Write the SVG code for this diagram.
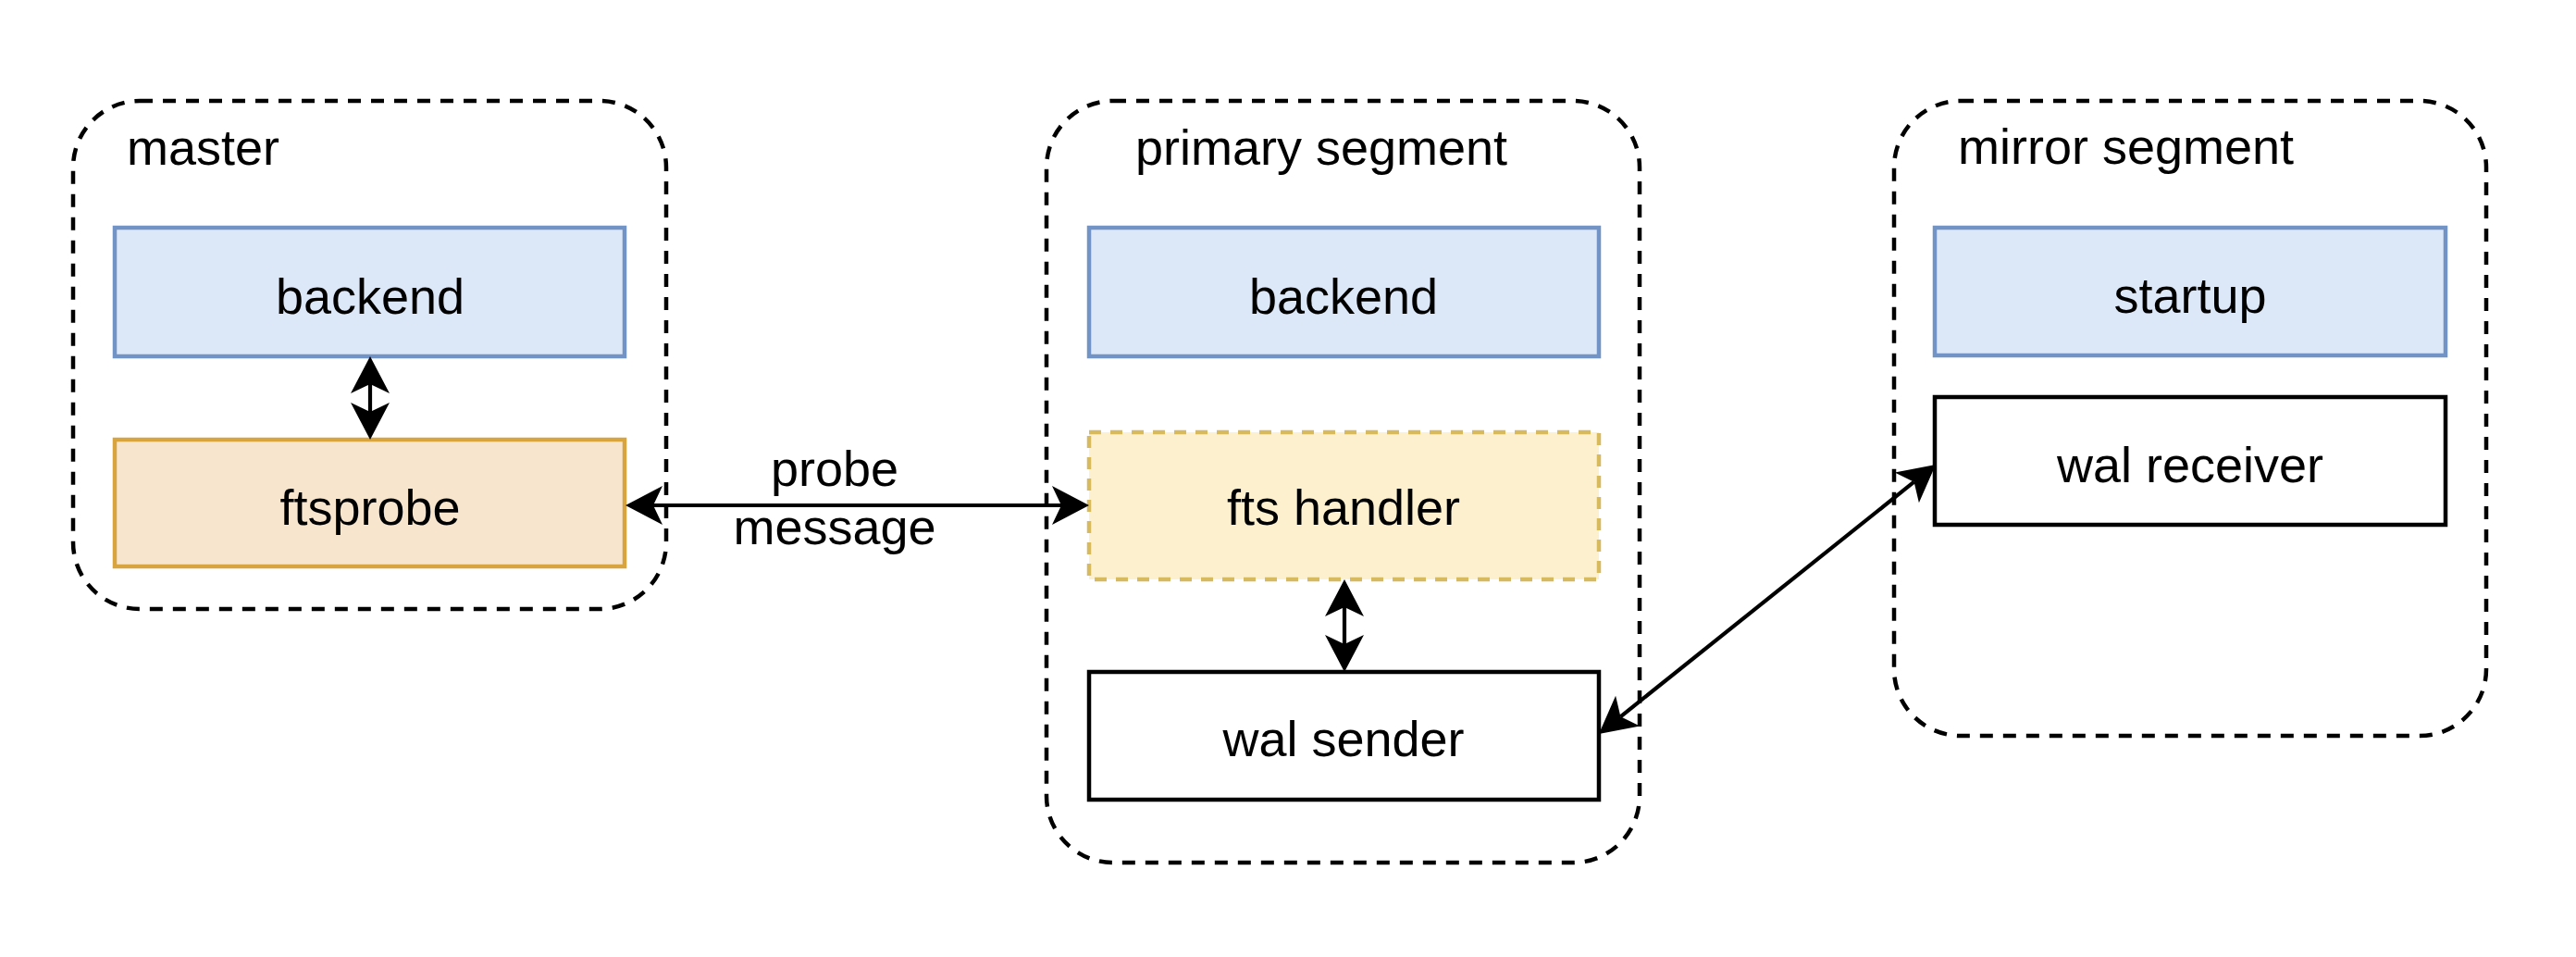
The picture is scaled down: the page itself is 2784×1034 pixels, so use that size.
<svg xmlns="http://www.w3.org/2000/svg" width="2784" height="1034" viewBox="0 0 2784 1034">
<style>
  text { font-family: "Liberation Sans", Arial, Helvetica, sans-serif; font-size: 54px; fill: #000; }
  .c { text-anchor: middle; }
  .container { fill: none; stroke: #000; stroke-width: 4.5; stroke-dasharray: 14 11; }
  .blue { fill: #dce7f8; stroke: #7193c5; stroke-width: 4.5; }
  .orange { fill: #f7e6cd; stroke: #d8a440; stroke-width: 4.5; }
  .yellow { fill: #fcf0cf; stroke: #d7b95e; stroke-width: 4.5; stroke-dasharray: 13 10; }
  .plain { fill: #fff; stroke: #000; stroke-width: 4.5; }
  .edge { fill: none; stroke: #000; stroke-width: 4.2; marker-start: url(#arr); marker-end: url(#arr); }
</style>
<defs>
  <marker id="arr" markerUnits="userSpaceOnUse" markerWidth="40" markerHeight="42" refX="10" refY="21" orient="auto-start-reverse" overflow="visible">
    <path d="M40,21 L0,0 L10,21 L0,42 Z" fill="#000"/>
  </marker>
</defs>
<rect width="2784" height="1034" fill="#fff"/>

<g id="master">
  <rect class="container" x="79" y="109" width="641" height="549" rx="72" ry="72"/>
  <text x="137" y="178">master</text>
</g>
<g id="primary-segment">
  <rect class="container" x="1131" y="109" width="641" height="823" rx="72" ry="72"/>
  <text x="1227" y="178">primary segment</text>
</g>
<g id="mirror-segment">
  <rect class="container" x="2047" y="109" width="640" height="686" rx="72" ry="72"/>
  <text x="2116" y="177">mirror segment</text>
</g>

<g id="master-backend">
  <rect class="blue" x="124" y="246" width="551" height="139"/>
  <text class="c" x="400" y="339">backend</text>
</g>
<g id="ftsprobe">
  <rect class="orange" x="124" y="475" width="551" height="137"/>
  <text class="c" x="400" y="567">ftsprobe</text>
</g>
<g id="primary-backend">
  <rect class="blue" x="1177" y="246" width="551" height="139"/>
  <text class="c" x="1452" y="339">backend</text>
</g>
<g id="fts-handler">
  <rect class="yellow" x="1177" y="467" width="551" height="159"/>
  <text class="c" x="1452" y="567">fts handler</text>
</g>
<g id="wal-sender">
  <rect class="plain" x="1177" y="726" width="551" height="138"/>
  <text class="c" x="1452" y="817">wal sender</text>
</g>
<g id="startup">
  <rect class="blue" x="2091" y="246" width="552" height="138"/>
  <text class="c" x="2367" y="338">startup</text>
</g>
<g id="wal-receiver">
  <rect class="plain" x="2091" y="429" width="552" height="138"/>
  <text class="c" x="2367" y="521">wal receiver</text>
</g>

<g id="connectors">
  <line class="edge" x1="400" y1="415" x2="400" y2="445"/>
  <line class="edge" x1="706" y1="546" x2="1147" y2="546"/>
  <text class="c" x="902" y="525">probe</text>
  <text class="c" x="902" y="588">message</text>
  <line class="edge" x1="1453" y1="656" x2="1453" y2="696"/>
  <line class="edge" x1="1751.4" y1="774.3" x2="2068.6" y2="520.7"/>
</g>
</svg>
